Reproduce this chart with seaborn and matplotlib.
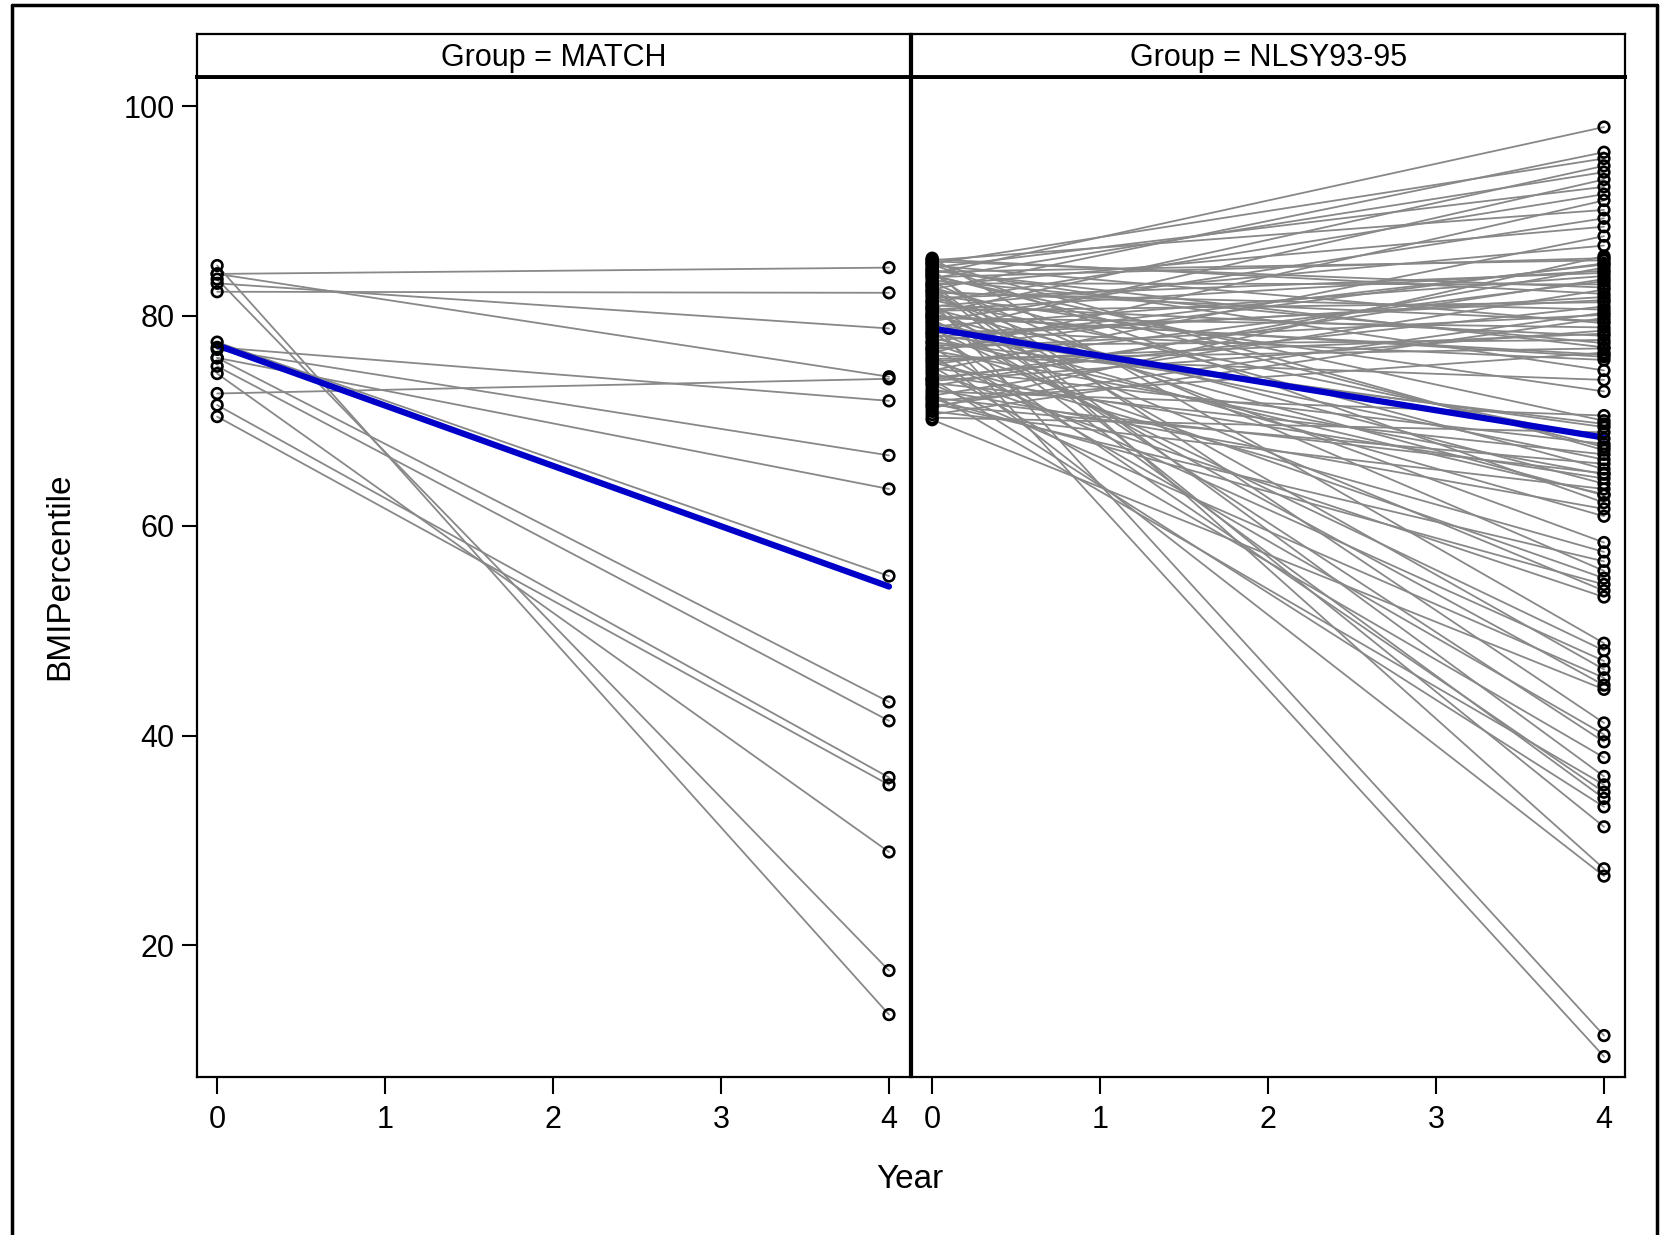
import numpy as np
import pandas as pd
import matplotlib
matplotlib.use("Agg")
import matplotlib.pyplot as plt
from matplotlib.lines import Line2D
import seaborn as sns

# ---------------- data ----------------
years = [0, 4]
groups = ["MATCH", "NLSY93-95"]
x_ticks = [0, 1, 2, 3, 4]
y_ticks = [20, 40, 60, 80, 100]

match_start = [84.0, 82.3, 83.1, 84.0, 72.6, 77.0, 76.8, 76.0,
               77.5, 76.0, 75.2, 71.5, 70.4, 74.5, 84.8, 83.5]
match_end = [84.6, 82.2, 78.8, 74.2, 74.0, 71.9, 66.7, 63.5,
             55.2, 43.2, 41.4, 36.0, 35.3, 28.9, 13.4, 17.6]

nlsy_start = [84.0,
              82.5, 85.0, 80.2, 83.6, 78.4, 84.6, 81.3, 76.5,
              85.3, 79.5, 82.9, 74.8, 80.9,
              71.2, 84.2, 77.6, 73.3, 81.7, 79.0, 75.4, 83.1, 72.4, 85.4,
              78.0, 80.5, 74.1, 82.2, 76.9, 70.6, 84.8, 79.8, 73.8, 81.0,
              77.2, 83.4, 75.9, 71.9, 80.0, 78.7,
              83.7, 76.8, 80.6, 73.9, 85.2, 78.3, 71.4, 82.3, 75.7, 84.3, 79.9,
              84.4, 76.2, 82.0,
              72.8, 83.8, 78.2, 70.3, 81.5, 75.0, 85.1, 73.6, 79.3, 71.5,
              82.7, 76.7, 74.4, 80.7, 70.9, 77.9,
              77.5, 83.9, 72.2, 80.1,
              84.9, 73.0, 79.1,
              81.9, 75.6, 71.7,
              83.2, 77.4, 72.1, 80.3, 74.6,
              85.5, 78.8,
              76.0, 82.4, 73.5, 79.7, 70.1,
              84.1,
              77.0, 81.2,
              75.2,
              83.0, 72.6, 78.5, 80.8, 74.0,
              82.8,
              84.5, 76.4,
              81.4, 79.4]
nlsy_end = [98.0,
            95.6, 95.0, 94.3, 93.7, 93.0, 92.3, 91.6, 91.0,
            90.1, 89.3, 88.5, 87.6, 86.7,
            85.7, 85.3, 84.9, 84.6, 84.1, 83.8, 83.3, 83.0, 82.5, 82.1,
            81.8, 81.3, 80.9, 80.6, 80.1, 79.8, 79.3, 78.9, 78.6, 78.1,
            77.7, 77.4, 76.9, 76.5, 76.1, 75.8,
            85.5, 85.0, 84.3, 83.5, 82.7, 81.5, 80.3, 79.5, 78.3, 77.0, 76.3,
            74.8, 73.9, 72.8,
            70.5, 70.0, 69.4, 68.9, 68.3, 67.8, 67.2, 66.8, 66.3, 65.9,
            65.4, 64.9, 64.5, 64.0, 63.5, 63.0,
            69.7, 67.5, 65.0, 62.9,
            62.2, 61.6, 60.9,
            58.4, 57.5, 56.6,
            55.7, 55.0, 54.4, 53.8, 53.2,
            48.8, 48.1,
            47.1, 46.3, 45.5, 44.8, 44.4,
            41.2,
            40.1, 39.4,
            37.9,
            36.1, 35.3, 34.6, 34.0, 33.2,
            31.3,
            27.3, 26.6,
            11.4, 9.4]

match_fit = [77.2, 54.2]
nlsy_fit = [78.8, 68.4]


def long_df(starts, ends):
    rows = []
    for i, (s, e) in enumerate(zip(starts, ends)):
        rows.append((i, years[0], s))
        rows.append((i, years[1], e))
    return pd.DataFrame(rows, columns=["subject", "Year", "BMIPercentile"])


panel_data = [(long_df(match_start, match_end), match_fit),
              (long_df(nlsy_start, nlsy_end), nlsy_fit)]

# ---------------- style ----------------
sns.set_theme(style="white")
plt.rcParams['font.family'] = ['Liberation Sans', 'DejaVu Sans']

W, H = 1663, 1235
fig = plt.figure(figsize=(W / 100, H / 100), dpi=100)
fig.patch.set_facecolor("white")


def fx(px):
    return px / W


def fy(py):
    return 1 - py / H


panels = [(197, 910), (912, 1625)]
top, bottom, head_top = 77, 1077, 34

for k, ((x0, x1), (df, fit)) in enumerate(zip(panels, panel_data)):
    ax = fig.add_axes([fx(x0), fy(bottom), (x1 - x0) / W, (bottom - top) / H])
    sns.lineplot(data=df, x="Year", y="BMIPercentile", units="subject",
                 estimator=None, color="#888888", lw=1.3, ax=ax, legend=False,
                 zorder=2)
    sns.lineplot(x=years, y=fit, color="#0000c8", lw=4.5, ax=ax, zorder=3)
    sns.scatterplot(data=df, x="Year", y="BMIPercentile", marker="o",
                    facecolor="none", edgecolor="black", s=58, linewidth=1.9,
                    ax=ax, zorder=4, legend=False)
    ax.set_xlim(-0.12, 4.125)
    ax.set_ylim(7.45, 102.77)
    ax.set_xticks(x_ticks)
    ax.set_xticklabels([str(t) for t in x_ticks])
    ax.set_xlabel("")
    ax.set_ylabel("")
    ax.tick_params(axis="x", direction="out", length=12, width=1.5,
                   labelsize=22, pad=8, colors="black", bottom=True)
    if k == 0:
        ax.set_yticks(y_ticks)
        ax.set_yticklabels([str(t) for t in y_ticks])
        ax.tick_params(axis="y", direction="out", length=11, width=1.5,
                       labelsize=22, pad=5, colors="black", left=True)
    else:
        ax.set_yticks([])
    ax.grid(False)
    for sp in ax.spines.values():
        sp.set_visible(True)
        sp.set_color("black")
        sp.set_linewidth(1.6)
    ax.spines["top"].set_linewidth(2.8)

    hx = fig.add_axes([fx(x0), fy(top), (x1 - x0) / W, (top - head_top) / H])
    hx.set_xticks([])
    hx.set_yticks([])
    hx.set_facecolor("white")
    for sp in hx.spines.values():
        sp.set_color("black")
        sp.set_linewidth(1.6)
    hx.spines["bottom"].set_linewidth(2.8)
    hx.text(0.5, 0.45, f"Group = {groups[k]}", ha="center", va="center",
            fontsize=22, color="black", transform=hx.transAxes)

fig.text(fx(60), fy(576), "BMIPercentile", rotation=90, ha="center",
         va="center", fontsize=24, color="black")
fig.text(fx(910), fy(1180), "Year", ha="center", va="center",
         fontsize=24, color="black")

# outer frame
for xs, ys in [([12, 12], [1240, 5]), ([12, 1657], [5, 5]), ([1657, 1657], [5, 1240])]:
    fig.add_artist(Line2D([fx(v) for v in xs], [fy(v) for v in ys],
                          color="black", lw=2.5, transform=fig.transFigure))

fig.savefig("out.png", dpi=100, facecolor="white")
